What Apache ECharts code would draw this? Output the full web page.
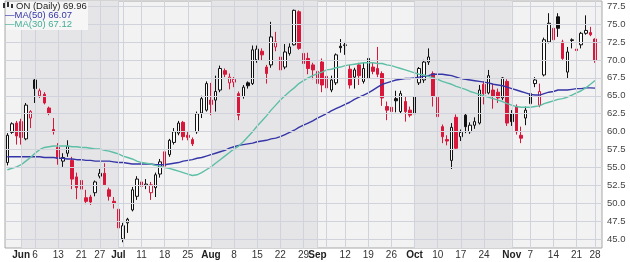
<!DOCTYPE html>
<html><head><meta charset="utf-8">
<script src="https://cdn.jsdelivr.net/npm/echarts@6/dist/echarts.min.js"></script>
<style>html,body{margin:0;padding:0;background:#fff}#c{width:630px;height:262px}</style>
</head><body><div id="c"></div>
<script>
const dates = [
'2022-05-26','2022-05-27','2022-05-31',
'2022-06-01','2022-06-02','2022-06-03','2022-06-06','2022-06-07','2022-06-08','2022-06-09','2022-06-10','2022-06-13','2022-06-14','2022-06-15','2022-06-16','2022-06-17','2022-06-21','2022-06-22','2022-06-23','2022-06-24','2022-06-27','2022-06-28','2022-06-29','2022-06-30',
'2022-07-01','2022-07-05','2022-07-06','2022-07-07','2022-07-08','2022-07-11','2022-07-12','2022-07-13','2022-07-14','2022-07-15','2022-07-18','2022-07-19','2022-07-20','2022-07-21','2022-07-22','2022-07-25','2022-07-26','2022-07-27','2022-07-28','2022-07-29',
'2022-08-01','2022-08-02','2022-08-03','2022-08-04','2022-08-05','2022-08-08','2022-08-09','2022-08-10','2022-08-11','2022-08-12','2022-08-15','2022-08-16','2022-08-17','2022-08-18','2022-08-19','2022-08-22','2022-08-23','2022-08-24','2022-08-25','2022-08-26','2022-08-29','2022-08-30','2022-08-31',
'2022-09-01','2022-09-02','2022-09-06','2022-09-07','2022-09-08','2022-09-09','2022-09-12','2022-09-13','2022-09-14','2022-09-15','2022-09-16','2022-09-19','2022-09-20','2022-09-21','2022-09-22','2022-09-23','2022-09-26','2022-09-27','2022-09-28','2022-09-29','2022-09-30',
'2022-10-03','2022-10-04','2022-10-05','2022-10-06','2022-10-07','2022-10-10','2022-10-11','2022-10-12','2022-10-13','2022-10-14','2022-10-17','2022-10-18','2022-10-19','2022-10-20','2022-10-21','2022-10-24','2022-10-25','2022-10-26','2022-10-27','2022-10-28','2022-10-31',
'2022-11-01','2022-11-02','2022-11-03','2022-11-04','2022-11-07','2022-11-08','2022-11-09','2022-11-10','2022-11-11','2022-11-14','2022-11-15','2022-11-16','2022-11-17','2022-11-18','2022-11-21','2022-11-22','2022-11-23','2022-11-25','2022-11-28'
];
const open = [55.7,59.9,61.2,61.4,59.0,61.9,67.2,65.0,65.2,63.3,60.3,57.8,55.9,57.0,56.0,53.7,53.2,50.8,50.9,51.5,53.8,54.2,51.9,50.3,
49.2,45.1,47.3,49.1,51.0,53.0,52.5,51.5,52.2,54.1,57.2,56.8,58.5,59.8,61.3,59.5,58.9,60.0,62.6,63.0,
64.4,64.4,65.8,68.5,66.8,66.9,65.3,64.9,66.8,66.7,70.0,71.2,69.0,69.3,71.8,70.4,69.0,70.9,72.1,76.7,70.9,70.2,69.3,
66.7,69.7,67.7,65.8,66.8,71.9,72.0,68.7,67.6,69.3,67.0,67.4,69.0,68.8,68.1,63.5,63.4,64.6,62.8,64.2,63.0,
62.5,66.8,67.2,69.7,68.1,64.8,60.7,58.9,56.0,62.0,59.3,62.3,60.0,60.9,61.2,66.6,65.4,65.8,65.5,64.7,67.0,
62.5,63.5,59.5,61.9,63.9,66.7,63.7,67.9,72.5,74.4,76.0,72.5,68.3,72.7,71.5,72.1,73.7,73.8,72.9];
const close = [59.5,61.1,59.4,59.2,63.7,62.8,66.0,65.7,64.0,62.6,60.0,56.3,56.4,58.0,53.4,52.2,52.0,50.3,50.2,53.0,54.2,52.6,51.0,50.0,
46.6,46.9,47.8,51.9,53.4,52.4,52.7,52.6,54.0,55.8,55.2,58.8,60.0,61.2,59.3,59.2,58.3,62.5,64.6,66.7,
63.8,65.6,68.8,68.0,67.6,67.3,62.3,66.2,66.4,71.4,71.5,70.7,68.1,73.2,72.5,68.6,71.1,71.8,76.9,71.6,69.5,68.8,68.6,
68.4,66.5,66.1,67.2,70.7,71.7,72.1,66.5,68.6,67.8,68.8,70.2,68.4,68.0,64.7,63.0,62.8,64.3,65.3,62.8,62.3,
64.9,68.8,69.7,70.4,64.9,62.1,59.3,58.7,60.6,57.7,59.9,60.7,60.9,61.4,65.8,65.3,67.8,64.9,64.7,67.5,61.2,
61.4,60.0,59.1,63.0,65.3,67.2,65.6,72.8,75.1,72.8,74.4,70.2,71.1,72.8,71.3,73.7,74.1,73.5,69.96];
const low = [55.3,59.7,58.2,58.2,58.8,60.5,64.0,64.7,63.8,62.3,59.6,55.4,55.1,56.5,52.0,50.6,51.3,49.9,49.8,51.0,53.5,52.5,50.4,49.3,
46.3,44.6,45.9,48.9,50.5,52.1,52.0,50.5,50.9,53.6,54.8,56.5,58.2,59.5,58.8,58.8,58.0,59.7,61.9,62.8,
62.3,62.8,65.5,67.6,65.9,66.2,61.6,64.6,66.0,66.5,69.6,69.9,66.7,68.9,71.2,68.3,68.7,70.6,72.0,71.4,68.9,68.0,67.3,
65.3,65.5,65.2,65.5,66.5,71.0,70.7,66.0,66.0,66.5,66.7,67.1,68.0,67.6,63.6,61.6,62.1,62.7,62.5,61.4,62.0,
62.2,66.5,66.8,69.3,63.5,60.7,58.4,58.1,54.8,57.5,58.7,59.8,59.7,60.4,61.0,63.8,65.2,63.2,64.0,64.4,60.8,
60.8,59.6,58.4,60.9,62.9,66.2,63.4,67.7,72.3,72.5,73.2,70.0,67.4,71.6,70.7,71.6,73.5,73.3,69.6];
const high = [59.8,61.3,61.5,61.8,64.0,63.0,67.4,66.0,65.5,63.5,61.9,58.4,57.0,58.8,56.5,54.3,53.6,51.9,51.2,53.2,54.8,55.6,52.2,50.9,
49.6,47.3,48.0,52.3,53.8,53.3,53.4,53.0,54.3,56.2,57.5,59.0,60.5,61.5,61.5,60.0,59.2,62.8,65.0,67.0,
66.8,67.8,69.2,68.8,68.1,67.6,65.6,66.5,67.0,72.0,72.0,71.6,69.3,75.3,73.9,70.8,72.2,72.3,77.0,76.9,71.9,71.0,69.6,
68.8,70.2,68.0,67.8,70.9,72.9,72.5,69.3,68.9,69.6,69.6,71.1,69.6,71.8,68.4,64.2,64.9,65.7,65.7,64.9,63.5,
65.3,69.0,70.0,71.6,68.4,64.9,61.0,59.5,61.2,62.4,60.3,62.6,61.3,62.0,66.5,67.0,68.6,66.7,66.0,67.6,67.3,
63.0,63.8,60.7,63.5,65.7,67.6,66.7,73.1,76.5,77.4,76.5,72.8,71.8,73.0,71.8,73.9,76.2,74.6,73.0];
const ma50 = [56.5,56.5,56.5,56.5,56.5,56.5,56.5,56.5,56.4,56.4,56.4,56.3,56.3,56.2,56.2,56.1,56.1,56.0,56.0,55.9,55.9,55.9,55.9,55.8,
55.7,55.7,55.6,55.5,55.5,55.5,55.5,55.5,55.4,55.4,55.4,55.5,55.6,55.7,55.9,56.0,56.1,56.3,56.4,56.6,
56.8,57.0,57.2,57.4,57.7,57.9,58.1,58.2,58.3,58.4,58.6,58.7,58.8,59.0,59.1,59.3,59.6,59.9,60.2,60.6,60.9,61.2,61.5,
61.9,62.2,62.5,62.9,63.2,63.5,63.8,64.1,64.5,64.8,65.1,65.4,65.8,66.2,66.6,66.8,67.0,67.2,67.3,67.4,67.4,
67.5,67.6,67.7,67.8,68.0,68.0,68.0,67.9,67.8,67.6,67.4,67.3,67.2,67.1,67.0,66.9,66.8,66.6,66.5,66.4,66.2,
66.0,65.8,65.6,65.4,65.2,65.1,65.1,65.3,65.5,65.6,65.8,65.8,65.8,65.9,66.0,66.0,66.1,66.1,66.07];
const ma30 = [54.7,54.9,55.1,55.4,55.9,56.4,57.0,57.5,57.8,57.9,58.0,58.0,58.0,58.0,57.9,57.9,57.8,57.8,57.7,57.6,57.6,57.4,57.3,57.1,
56.9,56.6,56.4,56.2,55.9,55.7,55.6,55.5,55.3,55.2,55.0,54.9,54.7,54.5,54.3,54.1,53.9,54.0,54.3,54.7,
55.1,55.6,56.1,56.6,57.1,57.6,58.0,58.6,59.3,60.0,60.8,61.5,62.2,63.0,63.7,64.4,65.0,65.6,66.1,66.7,67.1,67.5,67.8,
68.1,68.3,68.6,68.7,68.9,69.0,69.2,69.3,69.4,69.5,69.6,69.6,69.6,69.5,69.5,69.3,69.2,69.0,68.8,68.6,68.4,
68.2,68.0,67.9,67.7,67.5,67.3,67.0,66.8,66.6,66.3,66.1,65.9,65.6,65.4,65.2,65.0,64.8,64.6,64.4,64.2,63.9,
63.7,63.5,63.4,63.4,63.4,63.5,63.6,63.9,64.1,64.3,64.5,64.6,64.8,65.1,65.4,65.7,66.1,66.6,67.12];
const yTicks = [45,47.5,50,52.5,55,57.5,60,62.5,65,67.5,70,72.5,75,77.5];
const tickDates = ['2022-06-01','2022-06-06','2022-06-13','2022-06-21','2022-06-27','2022-07-01','2022-07-11','2022-07-18','2022-07-25','2022-08-01','2022-08-08','2022-08-15','2022-08-22','2022-08-29','2022-09-01','2022-09-12','2022-09-19','2022-09-26','2022-10-03','2022-10-10','2022-10-17','2022-10-24','2022-11-01','2022-11-07','2022-11-14','2022-11-21','2022-11-28'];
const tickTexts = ['Jun','6','13','21','27','Jul','11','18','25','Aug','8','15','22','29','Sep','12','19','26','Oct','10','17','24','Nov','7','14','21','28'];
const extraGridDates = ['2022-07-05','2022-09-06'];
const monthBands = [['2022-06-01','2022-07-01'],['2022-08-01','2022-09-01'],['2022-10-03','2022-11-01']];

const RED = '#d8173b', BLACK = '#111111';
const categories = dates.concat([' ']);
const labelMap = {};
tickDates.forEach((d, i) => { labelMap[d] = tickTexts[i]; });
const candleData = dates.map((d, i) => {
  const prev = i > 0 ? close[i - 1] : open[i];
  const col = close[i] >= prev ? BLACK : RED;
  const fill = close[i] >= open[i] ? '#ffffff' : col;
  return { value: [open[i], close[i], low[i], high[i]],
    itemStyle: { color: fill, color0: fill, borderColor: col, borderColor0: col } };
});
const gridX = tickDates.concat(extraGridDates).map(d => ({ xAxis: d }));
const gridY = yTicks.map(v => ({ yAxis: v }));

const chart = echarts.init(document.getElementById('c'), null, { renderer: 'canvas' });
chart.setOption({
  animation: false,
  backgroundColor: '#ffffff',
  grid: { left: 5, right: 28, top: 1, bottom: 14, show: true, backgroundColor: '#f2f2f2', borderColor: '#a8a8a8', borderWidth: 1 },
  xAxis: {
    type: 'category', data: categories, boundaryGap: true,
    axisLine: { show: false }, axisTick: { show: false }, splitLine: { show: false },
    axisLabel: {
      interval: (idx, val) => labelMap[val] !== undefined,
      formatter: (val) => { const t = labelMap[val]; return /^[A-Z]/.test(t) ? '{b|' + t + '}' : t; },
      fontFamily: 'Liberation Sans', fontSize: 10, color: '#333', margin: 2,
      rich: { b: { fontWeight: 'bold', fontSize: 10, color: '#222', fontFamily: 'Liberation Sans' } }
    }
  },
  yAxis: {
    type: 'value', position: 'right', min: 43.8, max: 78.2,
    axisLine: { show: false }, axisTick: { show: false }, splitLine: { show: false },
    axisLabel: { customValues: yTicks, formatter: v => v.toFixed(1), fontFamily: 'Liberation Sans', fontSize: 9.5, color: '#444', margin: 5 }
  },
  graphic: [
    { type: 'rect', shape: { x: 6, y: 2, width: 82, height: 28 }, style: { fill: '#f6f6f6' }, z: 50 },
    { type: 'rect', shape: { x: 3, y: 3, width: 2, height: 5 }, style: { fill: '#333' }, z: 51 },
    { type: 'rect', shape: { x: 7, y: 2, width: 2, height: 5 }, style: { fill: '#333' }, z: 51 },
    { type: 'rect', shape: { x: 11, y: 4, width: 2, height: 4 }, style: { fill: '#333' }, z: 51 },
    { type: 'text', x: 16, y: 1, style: { text: 'ON (Daily) ' + close[close.length - 1].toFixed(2), font: '9.5px "Liberation Sans"', fill: '#222' }, z: 52 },
    { type: 'text', x: 5, y: 10, style: { text: '\u2014MA(50) ' + ma50[ma50.length - 1].toFixed(2), font: '9.5px "Liberation Sans"', fill: '#3535a8' }, z: 52 },
    { type: 'text', x: 5, y: 19, style: { text: '\u2014MA(30) ' + ma30[ma30.length - 1].toFixed(2), font: '9.5px "Liberation Sans"', fill: '#45ad95' }, z: 52 }
  ],
  series: [
    {
      type: 'line', data: [], silent: true, z: 1,
      markArea: { silent: true, itemStyle: { color: '#e5e5e7' },
        data: monthBands.map(b => [{ xAxis: b[0] }, { xAxis: b[1] }]) },
      markLine: { silent: true, symbol: ['none', 'none'], label: { show: false },
        lineStyle: { color: '#d0d3db', width: 1, type: 'solid' },
        emphasis: { disabled: true },
        data: gridX.concat(gridY) }
    },
    { type: 'candlestick', data: candleData, barWidth: 3, z: 3,
      itemStyle: { borderWidth: 1 } },
    { type: 'line', data: ma50, symbol: 'none', z: 4, lineStyle: { color: '#3535a8', width: 1.4 } },
    { type: 'line', data: ma30, symbol: 'none', z: 4, lineStyle: { color: '#5cbfa6', width: 1.4 } }
  ]
});
</script>
</body></html>
